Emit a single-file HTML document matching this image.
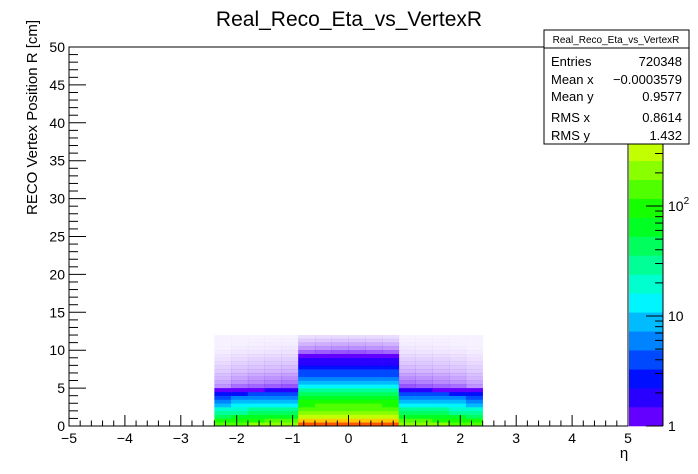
<!DOCTYPE html>
<html><head><meta charset="utf-8"><style>
body{margin:0;background:#fff}
svg{display:block;font-family:"Liberation Sans",sans-serif}
</style></head><body>
<svg id="c" width="698" height="474" viewBox="0 0 698 474">
<text x="349" y="26" font-size="21" text-anchor="middle">Real_Reco_Eta_vs_VertexR</text>
<g id="cells"></g>
<rect x="69" y="47" width="559" height="379" fill="none" stroke="#000" stroke-width="1"/>
<g id="xaxis"></g>
<g id="yaxis"></g>
<text x="624" y="458" font-size="15" text-anchor="middle">η</text>
<text transform="translate(37,215) rotate(-90)" font-size="15">RECO Vertex Position R [cm]</text>
<g id="palette"></g>
<g>
<rect x="544" y="30" width="145" height="114" fill="#fff" stroke="#000"/>
<line x1="544" y1="48" x2="689" y2="48" stroke="#000"/>
<text x="616" y="43" font-size="10" text-anchor="middle">Real_Reco_Eta_vs_VertexR</text>
<g font-size="13">
<text x="551" y="66">Entries</text><text x="682" y="66" text-anchor="end">720348</text>
<text x="551" y="84">Mean x</text><text x="682" y="84" text-anchor="end">−0.0003579</text>
<text x="551" y="101">Mean y</text><text x="682" y="101" text-anchor="end">0.9577</text>
<text x="551" y="122">RMS x</text><text x="682" y="122" text-anchor="end">0.8614</text>
<text x="551" y="140">RMS y</text><text x="682" y="140" text-anchor="end">1.432</text>
</g></g>
</svg>
<script>
const etaEdges=[-2.4,-2.1,-1.8,-1.5,-1.2,-0.9,-0.6,-0.3,0,0.3,0.6,0.9,1.2,1.5,1.8,2.1,2.4];
const rBinWidth=0.5;
const counts=[
[140,170,190,200,210,1420,1500,1580,1580,1500,1420,210,200,190,170,140],
[84,102,114,120,126,665,700,735,735,700,665,126,120,114,102,84],
[49,60,67,70,74,330,350,370,370,350,330,74,70,67,60,49],
[28,34,38,40,42,210,220,230,230,220,210,42,40,38,34,28],
[18,21,24,25,26,150,160,168,168,160,150,26,25,24,21,18],
[10,12,13,14,15,114,120,126,126,120,114,15,14,13,12,10],
[6,8,9,9,9.5,90,95,100,100,95,90,9.5,9,9,8,6],
[4,5,6,6,6.3,70,74,78,78,74,70,6.3,6,6,5,4],
[2.5,3,3.3,3.5,3.7,45,48,50,50,48,45,3.7,3.5,3.3,3,2.5],
[1,1.3,1.4,1.5,1.6,25,27,28,28,27,25,1.6,1.5,1.4,1.3,1],
[0.6,0.8,0.85,0.9,0.95,12,13,14,14,13,12,0.95,0.9,0.85,0.8,0.6],
[0.5,0.6,0.65,0.7,0.75,8,9,9.5,9.5,9,8,0.75,0.7,0.65,0.6,0.5],
[0.4,0.5,0.57,0.6,0.63,5.6,6,6.3,6.3,6,5.6,0.63,0.6,0.57,0.5,0.4],
[0.35,0.42,0.47,0.5,0.52,4.2,4.5,4.7,4.7,4.5,4.2,0.52,0.5,0.47,0.42,0.35],
[0.28,0.34,0.38,0.4,0.42,3.3,3.5,3.7,3.7,3.5,3.3,0.42,0.4,0.38,0.34,0.28],
[0.25,0.3,0.33,0.35,0.37,2.6,2.8,2.9,2.9,2.8,2.6,0.37,0.35,0.33,0.3,0.25],
[0.2,0.25,0.28,0.3,0.31,2.0,2.1,2.2,2.2,2.1,2.0,0.31,0.3,0.28,0.25,0.2],
[0.17,0.21,0.24,0.25,0.26,1.5,1.6,1.7,1.7,1.6,1.5,0.26,0.25,0.24,0.21,0.17],
[0.14,0.17,0.19,0.2,0.21,1.1,1.2,1.25,1.25,1.2,1.1,0.21,0.2,0.19,0.17,0.14],
[0.1,0.13,0.14,0.15,0.16,0.85,0.9,0.95,0.95,0.9,0.85,0.16,0.15,0.14,0.13,0.1],
[0.08,0.1,0.11,0.12,0.13,0.57,0.6,0.63,0.63,0.6,0.57,0.13,0.12,0.11,0.1,0.08],
[0.07,0.08,0.09,0.1,0.1,0.43,0.45,0.47,0.47,0.45,0.43,0.1,0.1,0.09,0.08,0.07],
[0.05,0.07,0.08,0.08,0.08,0.28,0.3,0.32,0.32,0.3,0.28,0.08,0.08,0.08,0.07,0.05],
[0.04,0.05,0.06,0.06,0.06,0.19,0.2,0.21,0.21,0.2,0.19,0.06,0.06,0.06,0.05,0.04]
];
const xTicks=[-5,-4,-3,-2,-1,0,1,2,3,4,5];
const xTickLabels=["−5","−4","−3","−2","−1","0","1","2","3","4","5"];
const yTicks=[0,5,10,15,20,25,30,35,40,45,50];
const zTicks=[1,10,100,1000];
const zTickExp=[null,null,"2","3"];

const NS="http://www.w3.org/2000/svg";
const X0=69,X1=628,Y0=426,Y1=47;
const xs=v=>X0+(v+5)/10*(X1-X0);
const ys=v=>Y0-v/50*(Y0-Y1);
const zMaxLog=(Y0-Y1)/110;
const zs=v=>Y0-Math.log10(v)/zMaxLog*(Y0-Y1);
const NC=20;
function colorIdx(v){let t=Math.log10(Math.max(v,1))/zMaxLog;let i=Math.floor(t*NC);return Math.min(NC-1,Math.max(0,i));}
function colorOf(i){const h=270-270*(i+0.5)/NC;return `hsl(${h},100%,50%)`;}
function mk(tag,attrs,parent){const e=document.createElementNS(NS,tag);for(const k in attrs)e.setAttribute(k,attrs[k]);parent.appendChild(e);return e;}

const cells=document.getElementById('cells');
counts.forEach((row,r)=>{row.forEach((v,c)=>{
  const x=xs(etaEdges[c]),x2=xs(etaEdges[c+1]);
  const y=ys((r+1)*rBinWidth),y2=ys(r*rBinWidth);
  const e=mk('rect',{x:x,y:y,width:x2-x+0.3,height:y2-y+0.3,fill:colorOf(colorIdx(v)),opacity:v>=1?1:Math.max(0.05,v*0.7)},cells);
  
  
});});

const xa=document.getElementById('xaxis');
for(let v=-5;v<=5.001;v+=0.2){const x=xs(v);const maj=Math.abs(v-Math.round(v))<1e-6;
  mk('line',{x1:x,x2:x,y1:Y0,y2:Y0-(maj?11:5.5),stroke:'#000'},xa);}
xTicks.forEach((v,i)=>{const t=mk('text',{x:xs(v),y:443,'font-size':14,'text-anchor':'middle'},xa);t.textContent=xTickLabels[i];
  });
const ya=document.getElementById('yaxis');
for(let v=0;v<=50;v++){const y=ys(v);const maj=v%5===0;
  mk('line',{x1:X0,x2:X0+(maj?17:9),y1:y,y2:y,stroke:'#000'},ya);}
yTicks.forEach(v=>{const t=mk('text',{x:65,y:ys(v)+5,'font-size':14,'text-anchor':'end'},ya);t.textContent=String(v);
  });

const pal=document.getElementById('palette');
for(let i=0;i<NC;i++){const yT=Y0-(i+1)/NC*(Y0-Y1),yB=Y0-i/NC*(Y0-Y1);
  mk('rect',{x:629,y:yT,width:34,height:yB-yT+0.3,fill:colorOf(i)},pal);}
mk('line',{x1:663,x2:663,y1:Y1,y2:Y0,stroke:'#000'},pal);
for(let d=0;d<4;d++)for(let m=1;m<10;m++){const v=m*Math.pow(10,d);if(Math.log10(v)>zMaxLog)continue;
  mk('line',{x1:663,x2:663-(m===1?17:8),y1:zs(v),y2:zs(v),stroke:'#000'},pal);}
zTicks.forEach((v,i)=>{const t=mk('text',{x:668,y:zs(v)+5,'font-size':14},pal);
  if(zTickExp[i]){t.textContent='10';const s=mk('tspan',{dy:-7,'font-size':10},t);s.textContent=zTickExp[i];}
  else t.textContent=String(v);
  });
</script>
</body></html>
